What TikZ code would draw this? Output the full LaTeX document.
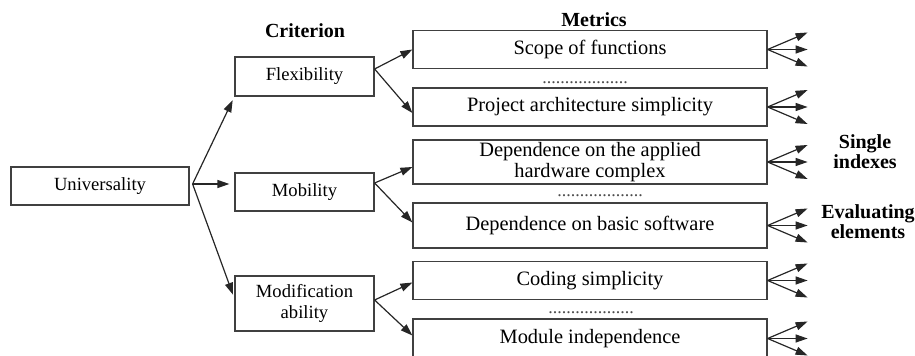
\documentclass[tikz,border=0pt]{standalone}
\usepackage{fontspec}
\setmainfont{Liberation Serif}
\usetikzlibrary{arrows.meta}
\usetikzlibrary{calc}
\newcommand{\FanArrows}[2][40]% #1=reach (optional), #2=metric box: three arrows out of its east side
{\coordinate (#2-up)  at ($(#2.east)+(#1,-17)$);
    \coordinate (#2-mid) at ($(#2.east)+(#1,0)$);
    \coordinate (#2-dn)  at ($(#2.east)+(#1,17)$);
    \draw[tip] (#2.east) -- (#2-up);
    \draw[tip] (#2.east) -- (#2-mid);
    \draw[tip] (#2.east) -- (#2-dn);
}

\begin{document}
\begin{tikzpicture}[x=0.5pt,y=-0.5pt, line width=0.6pt,
  box/.style={draw=black!75, rectangle, inner sep=0pt, align=center},
  crit/.style={box, minimum width=69.5pt, font=\fontsize{9.3}{10.5}\selectfont},
  metric/.style={box, minimum width=177pt, font=\fontsize{10.2}{10.5}\selectfont},
  head/.style={font=\bfseries\fontsize{10}{10}\selectfont, align=center},
  tip/.style={-{Triangle[length=6pt,width=4pt]}, black!85},
  dotrow/.style={anchor=base, text=black!70, font=\fontsize{9}{9}\selectfont}]
  \useasboundingbox (0,0) rectangle (915,356);
  % boxes
  \node[box, minimum width=89pt, minimum height=19pt, font=\fontsize{9.3}{10.5}\selectfont] (univ) at (100,186) {Universality};
  \node[crit, minimum height=19.5pt] (flex)  at (304.5,76.5) {Flexibility};
  \node[crit, minimum height=19pt]   (mob)   at (304.5,192)  {Mobility};
  \node[crit, minimum height=27.5pt] (modif) at (304.5,303.5) {Modification\\ ability};
  \node[metric, minimum height=19pt]   (scope)   at (590,49.5)  {Scope of functions};
  \node[metric, minimum height=19pt]   (project) at (590,107)   {Project architecture simplicity};
  \node[metric, minimum height=22pt]   (dephw)   at (590,162)   {Dependence on the applied\\ hardware complex};
  \node[metric, minimum height=22.5pt] (depsw)   at (590,225.5) {Dependence on basic software};
  \node[metric, minimum height=19pt]   (coding)  at (590,280.5) {Coding simplicity};
  \node[metric, minimum height=19.5pt] (module)  at (590,338.5) {Module independence};
  % dotted gaps
  \node[dotrow] (gap1) at (585,84)  {...................};
  \node[dotrow] (gap2) at (600,197) {...................};
  \node[dotrow] (gap3) at (591,314) {...................};
  % headings
  \node[head] (hcrit)   at (305,31)  {Criterion};
  \node[head] (hmetric) at (594,20)  {Metrics};
  \node[head] (hsingle) at (865,152) {Single\\ indexes};
  \node[head] (heval)   at (868,222) {Evaluating\\ elements};
  % criterion arrows
  \coordinate (u) at ($(univ.east)+(3,-2)$);
  \draw[tip, shorten >=2pt]   (u) -- (flex.south west);
  \draw[tip, shorten >=2.5pt] (u) -- (u -| mob.west);
  \draw[tip, shorten >=2pt]   (u) -- ($(modif.west)+(0,-5)$);
  % metric arrows
  \coordinate (f) at ($(flex.east)+(0,-7.5)$);
  \draw[tip] (f) -- (scope.west);
  \draw[tip] (f) -- ($(project.west)+(0,6)$);
  \coordinate (m) at ($(mob.east)+(0,-9)$);
  \draw[tip] (m) -- ($(dephw.west)+(0,5)$);
  \draw[tip] (m) -- ($(depsw.west)+(0,-3)$);
  \coordinate (d) at ($(modif.east)+(0,-3.5)$);
  \draw[tip] (d) -- ($(coding.west)+(0,2)$);
  \draw[tip] (d) -- ($(module.west)+(0,-3)$);
  % single indexes
  \FanArrows{scope}
  \FanArrows{project}
  \FanArrows{dephw}
  \FanArrows{depsw}
  \FanArrows{coding}
  \FanArrows{module}
\end{tikzpicture}
\end{document}
